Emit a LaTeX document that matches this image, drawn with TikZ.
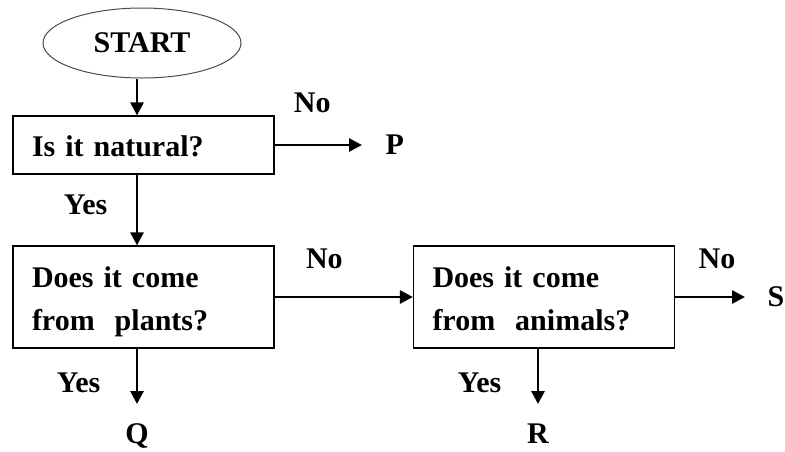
\documentclass[tikz,border=0pt]{standalone}
\usepackage{fontspec}
\setmainfont{Liberation Serif}
\usetikzlibrary{shapes.geometric,arrows.meta,positioning}

\tikzset{
  startend/.style={draw=black!70,line width=1pt,ellipse,minimum width=198pt,minimum height=70pt,inner sep=0pt},
  question/.style={draw,line width=1.2pt,rectangle,text width=223pt,inner xsep=19pt,align=left,
    execute at begin node=\rule{0pt}{30pt},execute at end node=\rule[-7pt]{0pt}{7pt}},
  flow/.style={line width=2.8pt,-{Triangle[length=13pt,width=13pt]}}
}

\begin{document}
\begin{tikzpicture}[x=1pt,y=-1pt,every node/.style={font=\bfseries\fontsize{30}{43}\selectfont}]
\useasboundingbox (0,0) rectangle (785,451);
\node [startend] (start) at (142,43) {START};
\node [question,minimum height=58pt] (natural) at (143.5,145) {Is it natural?};
\node [question,minimum height=102pt] (plants) at (143.5,297) {Does it come\\from~ plants?};
\node [question,minimum height=102pt] (animals) at (544,297) {Does it come\\from~ animals?};
% free ends of the outcome arrows
\coordinate (ptip) at (362,145);
\coordinate (qtip) at (137,404);
\coordinate (rtip) at (538,404);
\coordinate (stip) at (745,297);
\node [right=20pt of ptip] (P) {P};
\node [below=16pt of qtip] (Q) {Q};
\node [below=16pt of rtip] (R) {R};
\node [right=19pt of stip] (S) {S};
\draw [flow] (start.south -| qtip) -- (natural.north -| qtip);
\draw [flow] (natural.east) -- node [pos=0.43,above=27pt] (natNo) {No} (ptip);
\draw [flow] (natural.south -| qtip) -- node [pos=0.43,left=25pt] (natYes) {Yes} (plants.north -| qtip);
\draw [flow] (plants.east) -- node [pos=0.36,above=23pt] (plaNo) {No} (animals.west);
\draw [flow] (plants.south -| qtip) -- node [pos=0.62,left=32pt] (plaYes) {Yes} (qtip);
\draw [flow] (animals.east) -- node [pos=0.6,above=23pt] (aniNo) {No} (stip);
\draw [flow] (animals.south -| rtip) -- node [pos=0.62,left=32pt] (aniYes) {Yes} (rtip);
\end{tikzpicture}
\end{document}
